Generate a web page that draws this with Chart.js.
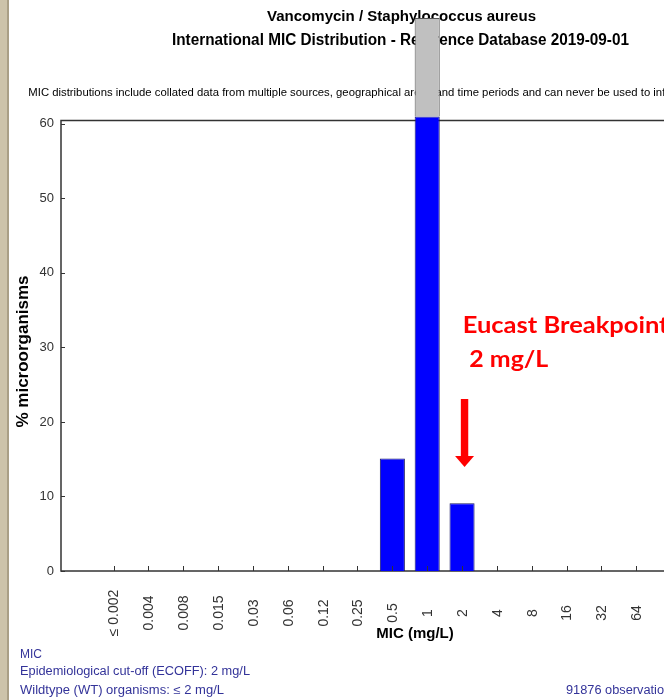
<!DOCTYPE html>
<html><head><meta charset="utf-8">
<script src="https://cdn.jsdelivr.net/npm/chart.js@4.4.1/dist/chart.umd.min.js"></script>
<style>
html,body{margin:0;padding:0;overflow:hidden;background:#fff;width:664px;height:700px}
#wrap{position:absolute;left:0;top:0;width:820px;height:700px}
canvas{display:block}
</style></head><body>
<div id="wrap"><canvas id="c" width="820" height="700"></canvas></div>
<script>
// ---- data ----
const categories = ['≤ 0.002','0.004','0.008','0.015','0.03','0.06','0.12','0.25','0.5','1','2','4','8','16','32','64','128','256','512'];
const withinAxisPct = [null,null,null,null,null,null,null,null,15.1,61.0,9.1,null,null,null,null,null,null,null,null];
const aboveAxisPct  = [null,null,null,null,null,null,null,null,null,13.2,null,null,null,null,null,null,null,null,null];
const yTicks = [0,10,20,30,40,50,60];
const titleLines = ['Vancomycin / Staphylococcus aureus','International MIC Distribution - Reference Database 2019-09-01'];
const disclaimer = 'MIC distributions include collated data from multiple sources, geographical areas and time periods and can never be used to infer resistance rates';
const annotationLines = ['Eucast Breakpoint',' 2 mg/L'];
const footerLeft = ['MIC','Epidemiological cut-off (ECOFF): 2 mg/L','Wildtype (WT) organisms: ≤ 2 mg/L'];
const footerRight = '91876 observations';
const yTitle = '% microorganisms';
const xTitle = 'MIC (mg/L)';
const breakpointCategory = '2';

const SANS = '"Liberation Sans", Arial, sans-serif';
const RED_FONT = 'bold 22px Lato, "Open Sans", sans-serif';
Chart.defaults.font.family = SANS;

function fitText(ctx, text, x, y, font, color, target, prefix, align) {
  ctx.save();
  ctx.font = font; ctx.fillStyle = color; ctx.textBaseline = 'alphabetic';
  ctx.textAlign = align || 'left';
  const w = ctx.measureText(prefix || text).width;
  const s = target ? target / w : 1;
  ctx.translate(x, y); ctx.scale(s, 1);
  ctx.fillText(text, 0, 0);
  ctx.restore();
}

const decor = {
  id: 'decor',
  beforeDraw(chart) {
    const ctx = chart.ctx;
    ctx.save();
    ctx.fillStyle = '#fff'; ctx.fillRect(0, 0, chart.width, chart.height);
    ctx.fillStyle = '#cdc3aa'; ctx.fillRect(0, 0, 7, chart.height);
    ctx.fillStyle = '#aa9f86'; ctx.fillRect(7, 0, 2, chart.height);
    ctx.restore();
    // titles
    fitText(ctx, titleLines[0], 401.5, 21, 'bold 14px ' + SANS, '#000', 269, null, 'center');
    fitText(ctx, titleLines[1], 400.5, 45, 'bold 16px ' + SANS, '#000', 457, null, 'center');
    fitText(ctx, disclaimer, 28.3, 95.7, '11.5px ' + SANS, '#000', 637,
      'MIC distributions include collated data from multiple sources, geographical areas and time periods and can never be used to inf');
    // footer
    fitText(ctx, footerLeft[0], 20, 658, '12px ' + SANS, '#333399', 0);
    fitText(ctx, footerLeft[1], 20, 675, '12px ' + SANS, '#333399', 230);
    fitText(ctx, footerLeft[2], 20, 694, '12px ' + SANS, '#333399', 204);
    fitText(ctx, footerRight, 566, 694, '12px ' + SANS, '#333399', 98, '91876 observatio');
    // y axis title
    ctx.save();
    ctx.font = 'bold 17px ' + SANS; ctx.fillStyle = '#000';
    ctx.textAlign = 'center'; ctx.textBaseline = 'middle';
    ctx.translate(23, 351.5); ctx.rotate(-Math.PI / 2);
    ctx.fillText(yTitle, 0, 0);
    ctx.restore();
  },
  beforeDatasetsDraw(chart) {
    const {ctx, chartArea: a} = chart;
    ctx.save();
    ctx.strokeStyle = '#333'; ctx.lineWidth = 1.5;
    ctx.strokeRect(a.left, a.top, a.right - a.left, a.bottom - a.top);
    ctx.restore();
  },
  afterDatasetsDraw(chart) {
    const {ctx, chartArea: a, scales: {x, y}} = chart;
    ctx.save();
    ctx.strokeStyle = '#333'; ctx.lineWidth = 1;
    ctx.beginPath();
    yTicks.forEach(v => { const py = Math.round(y.getPixelForValue(v)) + 0.5; ctx.moveTo(a.left, py); ctx.lineTo(a.left + 4, py); });
    categories.forEach((c, i) => { const px = Math.round(x.getPixelForValue(i + 1)) + 0.5; ctx.moveTo(px, a.bottom); ctx.lineTo(px, a.bottom - 5); });
    ctx.stroke();
    // x tick labels, rotated and centred
    ctx.fillStyle = '#333'; ctx.font = '14px ' + SANS;
    ctx.textAlign = 'center'; ctx.textBaseline = 'middle';
    categories.forEach((c, i) => {
      const px = x.getPixelForValue(i + 1);
      ctx.save(); ctx.translate(px + 1, 613); ctx.rotate(-Math.PI / 2); ctx.fillText(c, 0, 0); ctx.restore();
    });
    // breakpoint arrow
    const bx = x.getPixelForValue(categories.indexOf(breakpointCategory) + 1) + 2.5;
    ctx.fillStyle = '#ff0000';
    ctx.fillRect(bx - 3.7, 399, 7.4, 57.5);
    ctx.beginPath(); ctx.moveTo(bx - 9.5, 456); ctx.lineTo(bx + 9.5, 456); ctx.lineTo(bx, 467); ctx.closePath(); ctx.fill();
    ctx.restore();
    fitText(ctx, annotationLines[0], 462.7, 333.3, RED_FONT, '#ff0000', 196.6, 'Eucast Breakpoin');
    fitText(ctx, annotationLines[1].trim(), 469.3, 366.7, RED_FONT, '#ff0000', 79);
  }
};

const chart = new Chart(document.getElementById('c'), {
  type: 'bar',
  data: {
    datasets: [
      { label: 'MIC distribution', data: categories.map((c, i) => ({x: i + 1, y: withinAxisPct[i]})),
        backgroundColor: '#0000ff', borderColor: '#1a1a66', borderWidth: 1, clip: false,
        barPercentage: 0.72, categoryPercentage: 1 },
      { label: 'Above axis', data: categories.map((c, i) => ({x: i + 1, y: aboveAxisPct[i]})),
        backgroundColor: '#c0c0c0', borderColor: '#555', borderWidth: 1, clip: false,
        barPercentage: 0.72, categoryPercentage: 1 }
    ]
  },
  options: {
    responsive: false, animation: false,
    layout: { padding: { left: 9, right: 51, top: 120.5, bottom: 0 } },
    plugins: { legend: { display: false }, tooltip: { enabled: false } },
    scales: {
      x: {
        type: 'linear', min: 0, max: 19.3, stacked: true,
        grid: { display: false }, border: { display: false },
        ticks: { display: false, stepSize: 1, callback: v => categories[v - 1] || '' },
        title: { display: true, text: xTitle, color: '#000', font: { size: 15, weight: 'bold' }, padding: { top: 0, bottom: 57 } },
        afterFit: s => { s.height = 129; }
      },
      y: {
        min: 0, max: 60.45, stacked: true,
        grid: { display: false, drawTicks: false }, border: { display: false },
        afterBuildTicks: s => { s.ticks = yTicks.map(v => ({value: v})); },
        ticks: { color: '#333', padding: 7, font: { size: 13 } },
        title: { display: false, text: yTitle },
        afterFit: s => { s.width = 52; }
      }
    }
  },
  plugins: [decor]
});
</script>
</body></html>
